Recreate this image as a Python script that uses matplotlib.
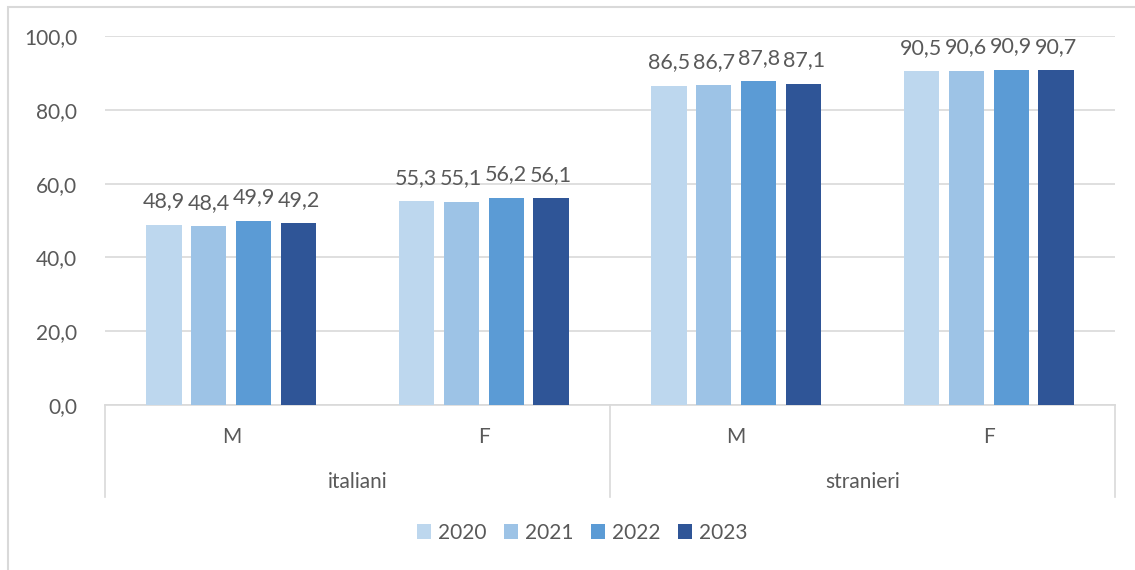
import numpy as np
import matplotlib
matplotlib.use('Agg')
import matplotlib.pyplot as plt
from matplotlib.patches import Rectangle

plt.rcParams['font.family'] = ['Lato', 'DejaVu Sans']

groups = ['italiani', 'stranieri']
sexes = ['M', 'F', 'M', 'F']
years = ['2020', '2021', '2022', '2023']
colors = ['#BDD7EE', '#9DC3E6', '#5B9BD5', '#2F5597']

# one list per year, order: italiani M, italiani F, stranieri M, stranieri F
v2020 = [48.9, 55.3, 86.5, 90.5]
v2021 = [48.4, 55.1, 86.7, 90.6]
v2022 = [49.9, 56.2, 87.8, 90.9]
v2023 = [49.2, 56.1, 87.1, 90.7]
series = [v2020, v2021, v2022, v2023]

txt = '#595959'
grid = '#D9D9D9'
fs = 15

fig = plt.figure(figsize=(11.35, 5.70), dpi=100)
# outer chart frame
fig.patches.append(Rectangle((8 / 1135, -0.1), 1.2, 1 - 7 / 570 + 0.1,
                             transform=fig.transFigure, fill=False,
                             edgecolor=grid, linewidth=1.5))

ax = fig.add_axes([105 / 1135, 1 - 405 / 570, 1010 / 1135, 369 / 570])

x = np.arange(len(sexes))
step = 0.178
width = 0.14
for i, (vals, col, yr) in enumerate(zip(series, colors, years)):
    pos = x + (i - 1.5) * step
    ax.bar(pos, vals, width, color=col, label=yr, zorder=3)
    for p, v in zip(pos, vals):
        ax.text(p, v + 3.6, f'{v:.1f}'.replace('.', ','), ha='center', va='bottom',
                fontsize=fs + 0.5, color=txt)

ax.set_xlim(-0.5, len(sexes) - 0.5)
ax.set_ylim(0, 100)
ax.set_yticks(np.arange(0, 101, 20))
ax.set_yticklabels([f'{t:.1f}'.replace('.', ',') for t in np.arange(0, 101, 20)])
ax.tick_params(axis='y', length=0, pad=20, labelsize=fs, labelcolor=txt)
ax.set_xticks([])
ax.yaxis.grid(True, color=grid, linewidth=1.2, zorder=0)
for s in ['top', 'right', 'left']:
    ax.spines[s].set_visible(False)
ax.spines['bottom'].set_color(grid)
ax.spines['bottom'].set_linewidth(1.2)

# two-level category axis
trans = ax.get_xaxis_transform()
for xs in [-0.5, 1.5, 3.5]:
    ax.plot([xs, xs], [0, -92 / 369], transform=trans, color=grid,
            linewidth=1.2, clip_on=False)
for xi, s in zip(x, sexes):
    ax.text(xi, -32 / 369, s, transform=trans, ha='center', va='center',
            fontsize=fs, color=txt)
for gi, g in enumerate(groups):
    ax.text(gi * 2 + 0.5, -77 / 369, g, transform=trans, ha='center', va='center',
            fontsize=fs, color=txt)

fig.legend(loc='center', bbox_to_anchor=(582 / 1135, 1 - 533 / 570), ncol=4,
           frameon=False, fontsize=fs, labelcolor=txt, handlelength=0.7,
           handleheight=0.7, handletextpad=0.3, columnspacing=0.85)

plt.savefig('out.png', dpi=100)
